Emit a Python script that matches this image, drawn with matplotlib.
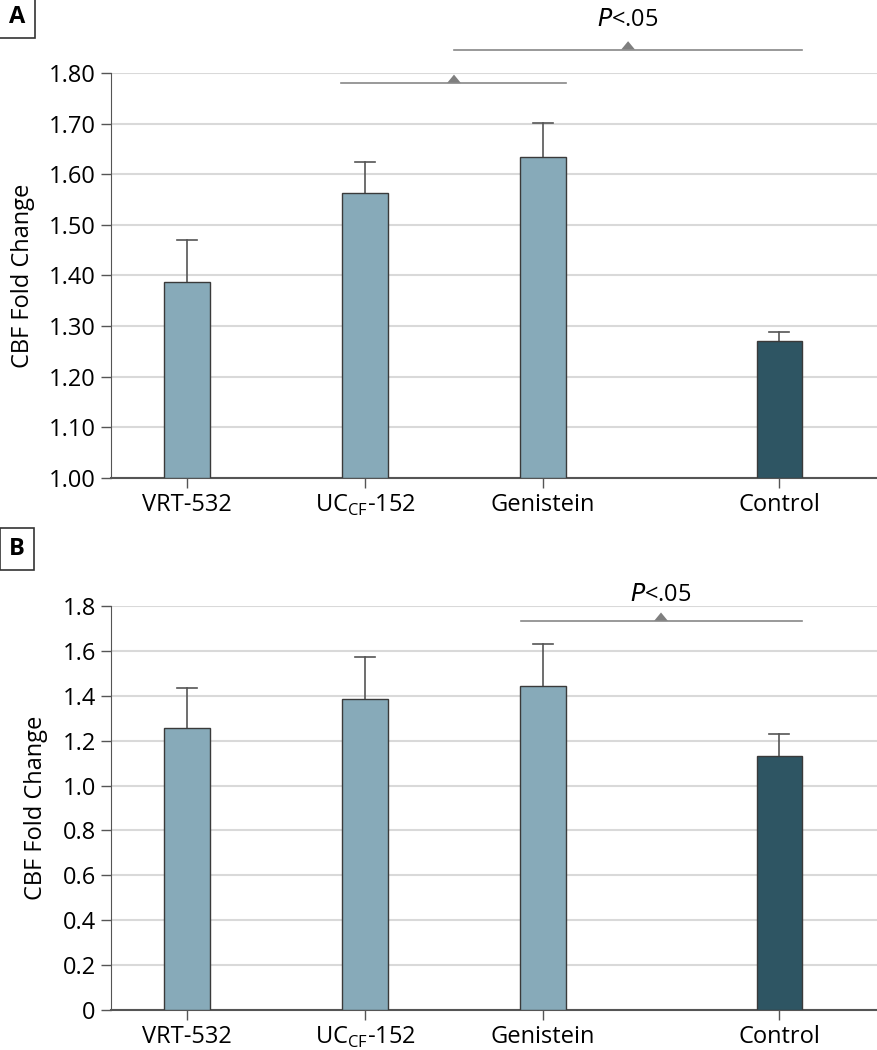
import matplotlib
matplotlib.use('Agg')
import matplotlib.pyplot as plt
import matplotlib.transforms as mtransforms
from matplotlib.patches import Polygon
import numpy as np

plt.rcParams['font.family'] = ['Liberation Sans Narrow', 'Open Sans', 'DejaVu Sans']

cats = ['VRT-532', 'UC$_{\\mathregular{CF}}$-152', 'Genistein', 'Control']
xpos = [0, 1, 2, 3.326]

# panel A
a_vals = [1.387, 1.563, 1.634, 1.270]
a_err = [0.083, 0.062, 0.068, 0.018]
# panel B
b_vals = [1.257, 1.386, 1.444, 1.132]
b_err = [0.178, 0.187, 0.187, 0.098]

light = '#87aab9'
dark = '#2e5563'
cols = [light, light, light, dark]


def panel(ax, vals, err, ylim, yticks, labels):
    ax.bar(xpos, [v - ylim[0] for v in vals], bottom=ylim[0], width=0.253,
           color=cols, edgecolor='#3a3a3a', linewidth=1.0, zorder=3)
    for x, v, e in zip(xpos, vals, err):
        ax.plot([x, x], [v, v + e], color='#555555', lw=1.2, zorder=2)
        ax.plot([x - 0.055, x + 0.055], [v + e, v + e], color='#555555', lw=1.2, zorder=2)
    ax.set_ylim(ylim)
    ax.set_xlim(-0.427, 3.882)
    ax.set_yticks(yticks)
    ax.set_yticklabels(labels, fontsize=17)
    ax.set_xticks(xpos)
    ax.set_xticklabels(cats, fontsize=17)
    ax.yaxis.grid(True, color='#d9d9d9', lw=1.5, zorder=0)
    ax.set_axisbelow(True)
    for s in ['top', 'right']:
        ax.spines[s].set_visible(False)
    ax.spines['left'].set_color('#555555')
    ax.spines['bottom'].set_color('#555555')
    ax.spines['bottom'].set_linewidth(1.5)
    ax.tick_params(axis='both', length=7, color='#555555', width=1, pad=4)
    ax.set_ylabel('CBF Fold Change', fontsize=17, labelpad=10)


def sig(ax, x0, x1, y, xm, text_y=None):
    ax.plot([x0, x1], [y, y], color='#888888', lw=1.2, clip_on=False)
    # small flat triangle sitting on the line (size in inches)
    tr = ax.figure.dpi_scale_trans + mtransforms.ScaledTranslation(xm, y, ax.transData)
    ax.add_patch(Polygon([(-0.07, 0), (0.07, 0), (0, 0.085)], closed=True,
                         transform=tr, fc='#7f7f7f', ec='none', clip_on=False))
    if text_y is not None:
        ax.text(xm, text_y, '$\\mathit{P}$<.05', ha='center', va='center', fontsize=17)


fig = plt.figure(figsize=(8.78, 10.5), dpi=100)
axA = fig.add_axes([0.1264, 0.5448, 0.8736, 0.3857])
axB = fig.add_axes([0.1264, 0.0381, 0.8736, 0.3848])

ta = np.round(np.arange(1.0, 1.81, 0.1), 2)
panel(axA, a_vals, a_err, (1.0, 1.8), ta, ['{:.2f}'.format(t) for t in ta])
tb = np.round(np.arange(0.0, 1.81, 0.2), 1)
panel(axB, b_vals, b_err, (0.0, 1.8), tb, ['0'] + ['{:.1f}'.format(t) for t in tb[1:]])

sig(axA, 0.865, 2.129, 1.78, 1.5)
sig(axA, 1.5, 3.455, 1.846, 2.478, text_y=1.905)
sig(axB, 1.876, 3.455, 1.733, 2.663, text_y=1.85)

for lab, y in [('A', 1 - 17 / 1050), ('B', 1 - 549 / 1050)]:
    fig.text(17 / 878, y, lab, ha='center', va='center', fontsize=17, fontweight='bold',
             bbox=dict(boxstyle='square,pad=0.4', fc='white', ec='#333333', lw=1.2))

fig.savefig('out.png', dpi=100)
